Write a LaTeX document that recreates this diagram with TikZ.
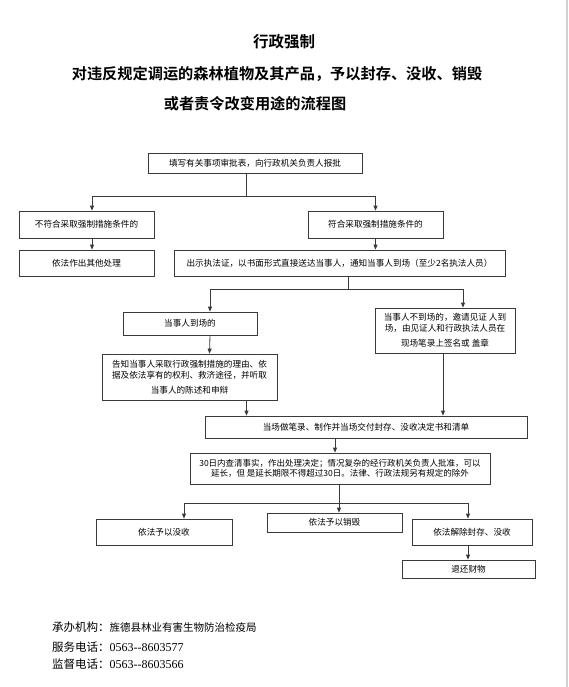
\documentclass[tikz,border=0pt]{standalone}
\usepackage{fontspec}
\setmainfont{Noto Sans CJK SC}[BoldFont={Noto Sans CJK SC Bold}]
\newfontfamily\tnr{Liberation Serif}
\usetikzlibrary{arrows.meta}
\definecolor{lncol}{HTML}{3A3A3A}
\tikzset{
  box/.style={draw=lncol, line width=0.8pt, inner sep=0pt, align=center,
    font=\fontsize{8.6}{11}\selectfont},
  conn/.style={draw=lncol, line width=0.8pt},
  arr/.style={draw=lncol, line width=0.8pt, -{Triangle[length=5pt,width=4pt]}},
  foot/.style={anchor=west, inner sep=0pt}
}
\begin{document}
\begin{tikzpicture}[x=1pt,y=-1pt]
\useasboundingbox (0,0) rectangle (568,687);
\fill[white] (0,0) rectangle (568,687);
\fill[black!18] (566,0) rectangle (568,687);

% titles
\node[inner sep=0pt, font=\fontsize{15.5}{16}\selectfont\bfseries] (t1) at (284,42) {行政强制};
\node[inner sep=0pt, font=\fontsize{15.2}{16}\selectfont\bfseries] (t2) at (277,74) {对违反规定调运的森林植物及其产品，予以封存、没收、销毁};
\node[inner sep=0pt, font=\fontsize{15.2}{16}\selectfont\bfseries] (t3) at (255,104) {或者责令改变用途的流程图};

% boxes
\node[box, minimum width=214pt, minimum height=20pt] (top) at (255,163) {填写有关事项审批表，向行政机关负责人报批};
\node[box, minimum width=135pt, minimum height=27pt] (nofit) at (86.5,224.5) {不符合采取强制措施条件的};
\node[box, minimum width=135pt, minimum height=27pt] (fit) at (375.5,224.5) {符合采取强制措施条件的};
\node[box, minimum width=135pt, minimum height=26pt] (other) at (86.5,263) {依法作出其他处理};
\node[box, minimum width=331pt, minimum height=26pt] (show) at (339.5,263) {出示执法证，以书面形式直接送达当事人，通知当事人到场（至少2名执法人员）};
\node[box, minimum width=134pt, minimum height=23pt] (present) at (190,323.5) {当事人到场的};
\node[box, minimum width=175pt, minimum height=46pt] (inform) at (189.5,377) {告知当事人采取行政强制措施的理由、依\\据及依法享有的权利、救济途径，并听取\\[4pt]当事人的陈述和申辩};
\node[box, minimum width=140pt, minimum height=45pt] (absent) at (445,330.5) {当事人不到场的，邀请见证 人到\\场，由见证人和行政执法人员在\\[4pt]现场笔录上签名或 盖章};
\node[box, minimum width=322pt, minimum height=22pt] (record) at (366,427) {当场做笔录、制作并当场交付封存、没收决定书和清单};
\node[box, minimum width=300pt, minimum height=31pt, font=\fontsize{8.5}{10.5}\selectfont] (decide) at (340,468.5) {30日内查清事实，作出处理决定；情况复杂的经行政机关负责人批准，可以\\延长，但 是延长期限不得超过30日。法律、行政法规另有规定的除外};
\node[box, minimum width=136pt, minimum height=26pt] (confisc) at (164,532) {依法予以没收};
\node[box, minimum width=135pt, minimum height=19pt] (destroy) at (334.5,522.5) {依法予以销毁};
\node[box, minimum width=120pt, minimum height=26pt] (release) at (472,532) {依法解除封存、没收};
\node[box, minimum width=133pt, minimum height=18pt] (ret) at (468.5,569) {退还财物};

% connectors
\coordinate (j1) at (246,196);
\draw[conn] ([xshift=-9pt]top.south) -- (j1);
\draw[arr] (j1) -| ([xshift=5.5pt]nofit.north);
\draw[arr] (j1) -| (fit.north);
\draw[arr] ([xshift=5.5pt]nofit.south) -- ([xshift=5.5pt]other.north);
\draw[arr] (fit.south) -- (fit.south |- show.north);
\coordinate (j2) at (348,289);
\draw[conn] (show.south -| j2) -- (j2);
\draw[arr] (j2) -| ([xshift=20pt]present.north);
\draw[arr] (j2) -| ([xshift=18pt]absent.north);
\draw[arr] ([xshift=20pt]present.south) -- ([xshift=20pt]inform.north);
\draw[arr] ([xshift=57pt]inform.south) -- ([xshift=57pt]inform.south |- record.north);
\draw[arr] ([xshift=-2pt]absent.south) -- ([xshift=-2pt]absent.south |- record.north);
\draw[arr] ([xshift=-31pt]record.south) -- ([xshift=-31pt]record.south |- decide.north);
\coordinate (j3) at (339,503);
\draw[arr] (decide.south -| j3) -- (destroy.north -| j3);
\draw[arr] (j3) -| ([xshift=20pt]confisc.north);
\draw[arr] (j3) -| ([xshift=-4pt]release.north);
\draw[arr] ([xshift=-4pt]release.south) -- ([xshift=-4pt]release.south |- ret.north);

% footer
\node[foot] (f1) at (52,627) {{\fontsize{11.5}{12}\selectfont 承办机构：}{\fontsize{10.5}{12}\selectfont 旌德县林业有害生物防治检疫局}};
\node[foot] (f2) at (52,647) {{\fontsize{11.5}{12}\selectfont 服务电话：}{\fontsize{12}{12}\selectfont\tnr 0563-\kern0pt-8603577}};
\node[foot] (f3) at (52,664) {{\fontsize{11.5}{12}\selectfont 监督电话：}{\fontsize{12}{12}\selectfont\tnr 0563-\kern0pt-8603566}};
\end{tikzpicture}
\end{document}
